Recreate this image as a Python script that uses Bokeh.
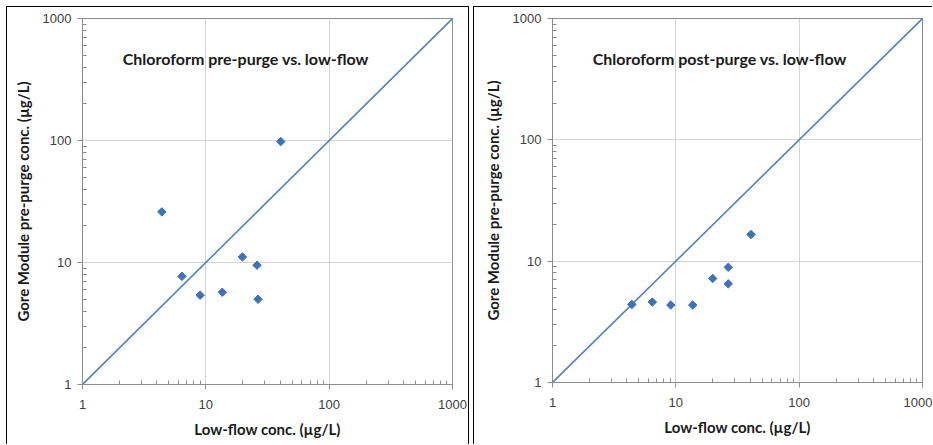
import math
from bokeh.plotting import figure
from bokeh.layouts import row
from bokeh.models import Label, FixedTicker, ColumnDataSource
from bokeh.embed import file_html
from bokeh.resources import INLINE

# Data
low_flow_pre = [4.4, 6.4, 9.0, 13.6, 19.8, 26.0, 26.5, 40.5]
pre_purge = [26.0, 7.7, 5.4, 5.7, 11.1, 9.5, 5.0, 98.0]
low_flow_post = [4.4, 6.45, 9.1, 13.7, 19.9, 26.6, 26.6, 40.7]
post_purge = [4.4, 4.6, 4.35, 4.35, 7.2, 8.9, 6.5, 16.6]
one_to_one = [1, 1000]
tick_values = [1, 10, 100, 1000]
tick_labels = ["1", "10", "100", "1000"]
titles = ["Chloroform pre-purge vs. low-flow", "Chloroform post-purge vs. low-flow"]
x_label = "Low-flow conc. (\u00b5g/L)"
y_label = "Gore Module pre-purge conc. (\u00b5g/L)"

minor = [m * 10 ** e for e in range(3) for m in range(2, 10)]

MARKER = "#3F72B8"
LINE = "#5083C0"
LABEL_FONT = "Lato"


def make_panel(xs, ys, title, fw, fh, left, right, top, bottom, styles):
    p = figure(x_axis_type="log", y_axis_type="log",
               x_range=(1, 1000), y_range=(1, 1000),
               frame_width=fw, frame_height=fh,
               min_border_left=left, min_border_right=right,
               min_border_top=top, min_border_bottom=bottom,
               output_backend="svg", toolbar_location=None)
    p.styles = styles
    for ax in (p.xaxis[0], p.yaxis[0]):
        ax.ticker = FixedTicker(ticks=tick_values, minor_ticks=minor)
        ax.major_label_overrides = {v: s for v, s in zip(tick_values, tick_labels)}
        ax.axis_line_color = "#8c8c8c"
        ax.major_tick_line_color = "#8c8c8c"
        ax.minor_tick_line_color = "#8c8c8c"
        ax.major_tick_out = 5
        ax.major_tick_in = 0
        ax.minor_tick_in = 4
        ax.minor_tick_out = 0
        ax.major_label_text_font = "Liberation Sans"
        ax.major_label_text_font_size = "13px"
        ax.major_label_text_color = "#404040"
        ax.axis_label_text_font = LABEL_FONT
        ax.axis_label_text_font_style = "bold"
        ax.axis_label_text_font_size = "15px"
        ax.axis_label_text_color = "#1a1a1a"
    p.xaxis.axis_label = x_label
    p.yaxis.axis_label = y_label
    p.xaxis.major_label_standoff = 10
    p.yaxis.major_label_standoff = 6
    p.xaxis.axis_label_standoff = 8
    p.yaxis.axis_label_standoff = 8
    p.xgrid.ticker = FixedTicker(ticks=tick_values)
    p.ygrid.ticker = FixedTicker(ticks=tick_values)
    p.xgrid.grid_line_color = "#d4d4d4"
    p.ygrid.grid_line_color = "#d4d4d4"
    p.outline_line_color = "#8c8c8c"
    p.outline_line_width = 1

    p.line(one_to_one, one_to_one, line_color=LINE, line_width=1.6)
    src = ColumnDataSource(dict(x=xs, y=ys))
    p.scatter("x", "y", source=src, marker="square", size=6, angle=math.pi / 4,
              fill_color=MARKER, line_color=MARKER)
    p.add_layout(Label(x=2.12, y=469, text=title, text_font=LABEL_FONT,
                       text_font_style="bold", text_font_size="16px",
                       text_color="#1a1a1a", text_baseline="middle"))
    return p


s1 = {"border-top": "1px solid black", "border-left": "1px solid black",
      "border-right": "1px solid black"}
s2 = {"border-top": "1px solid black", "border-left": "1px solid black"}
p1 = make_panel(low_flow_pre, pre_purge, titles[0], 368, 365, 75, 18, 11, 61, s1)
p2 = make_panel(low_flow_post, post_purge, titles[1], 369, 363, 78, 11, 11, 63, s2)
layout = row(p1, p2, spacing=4)
layout.margin = (6, 0, 0, 6)

open("out.html", "w").write(file_html(layout, INLINE))
